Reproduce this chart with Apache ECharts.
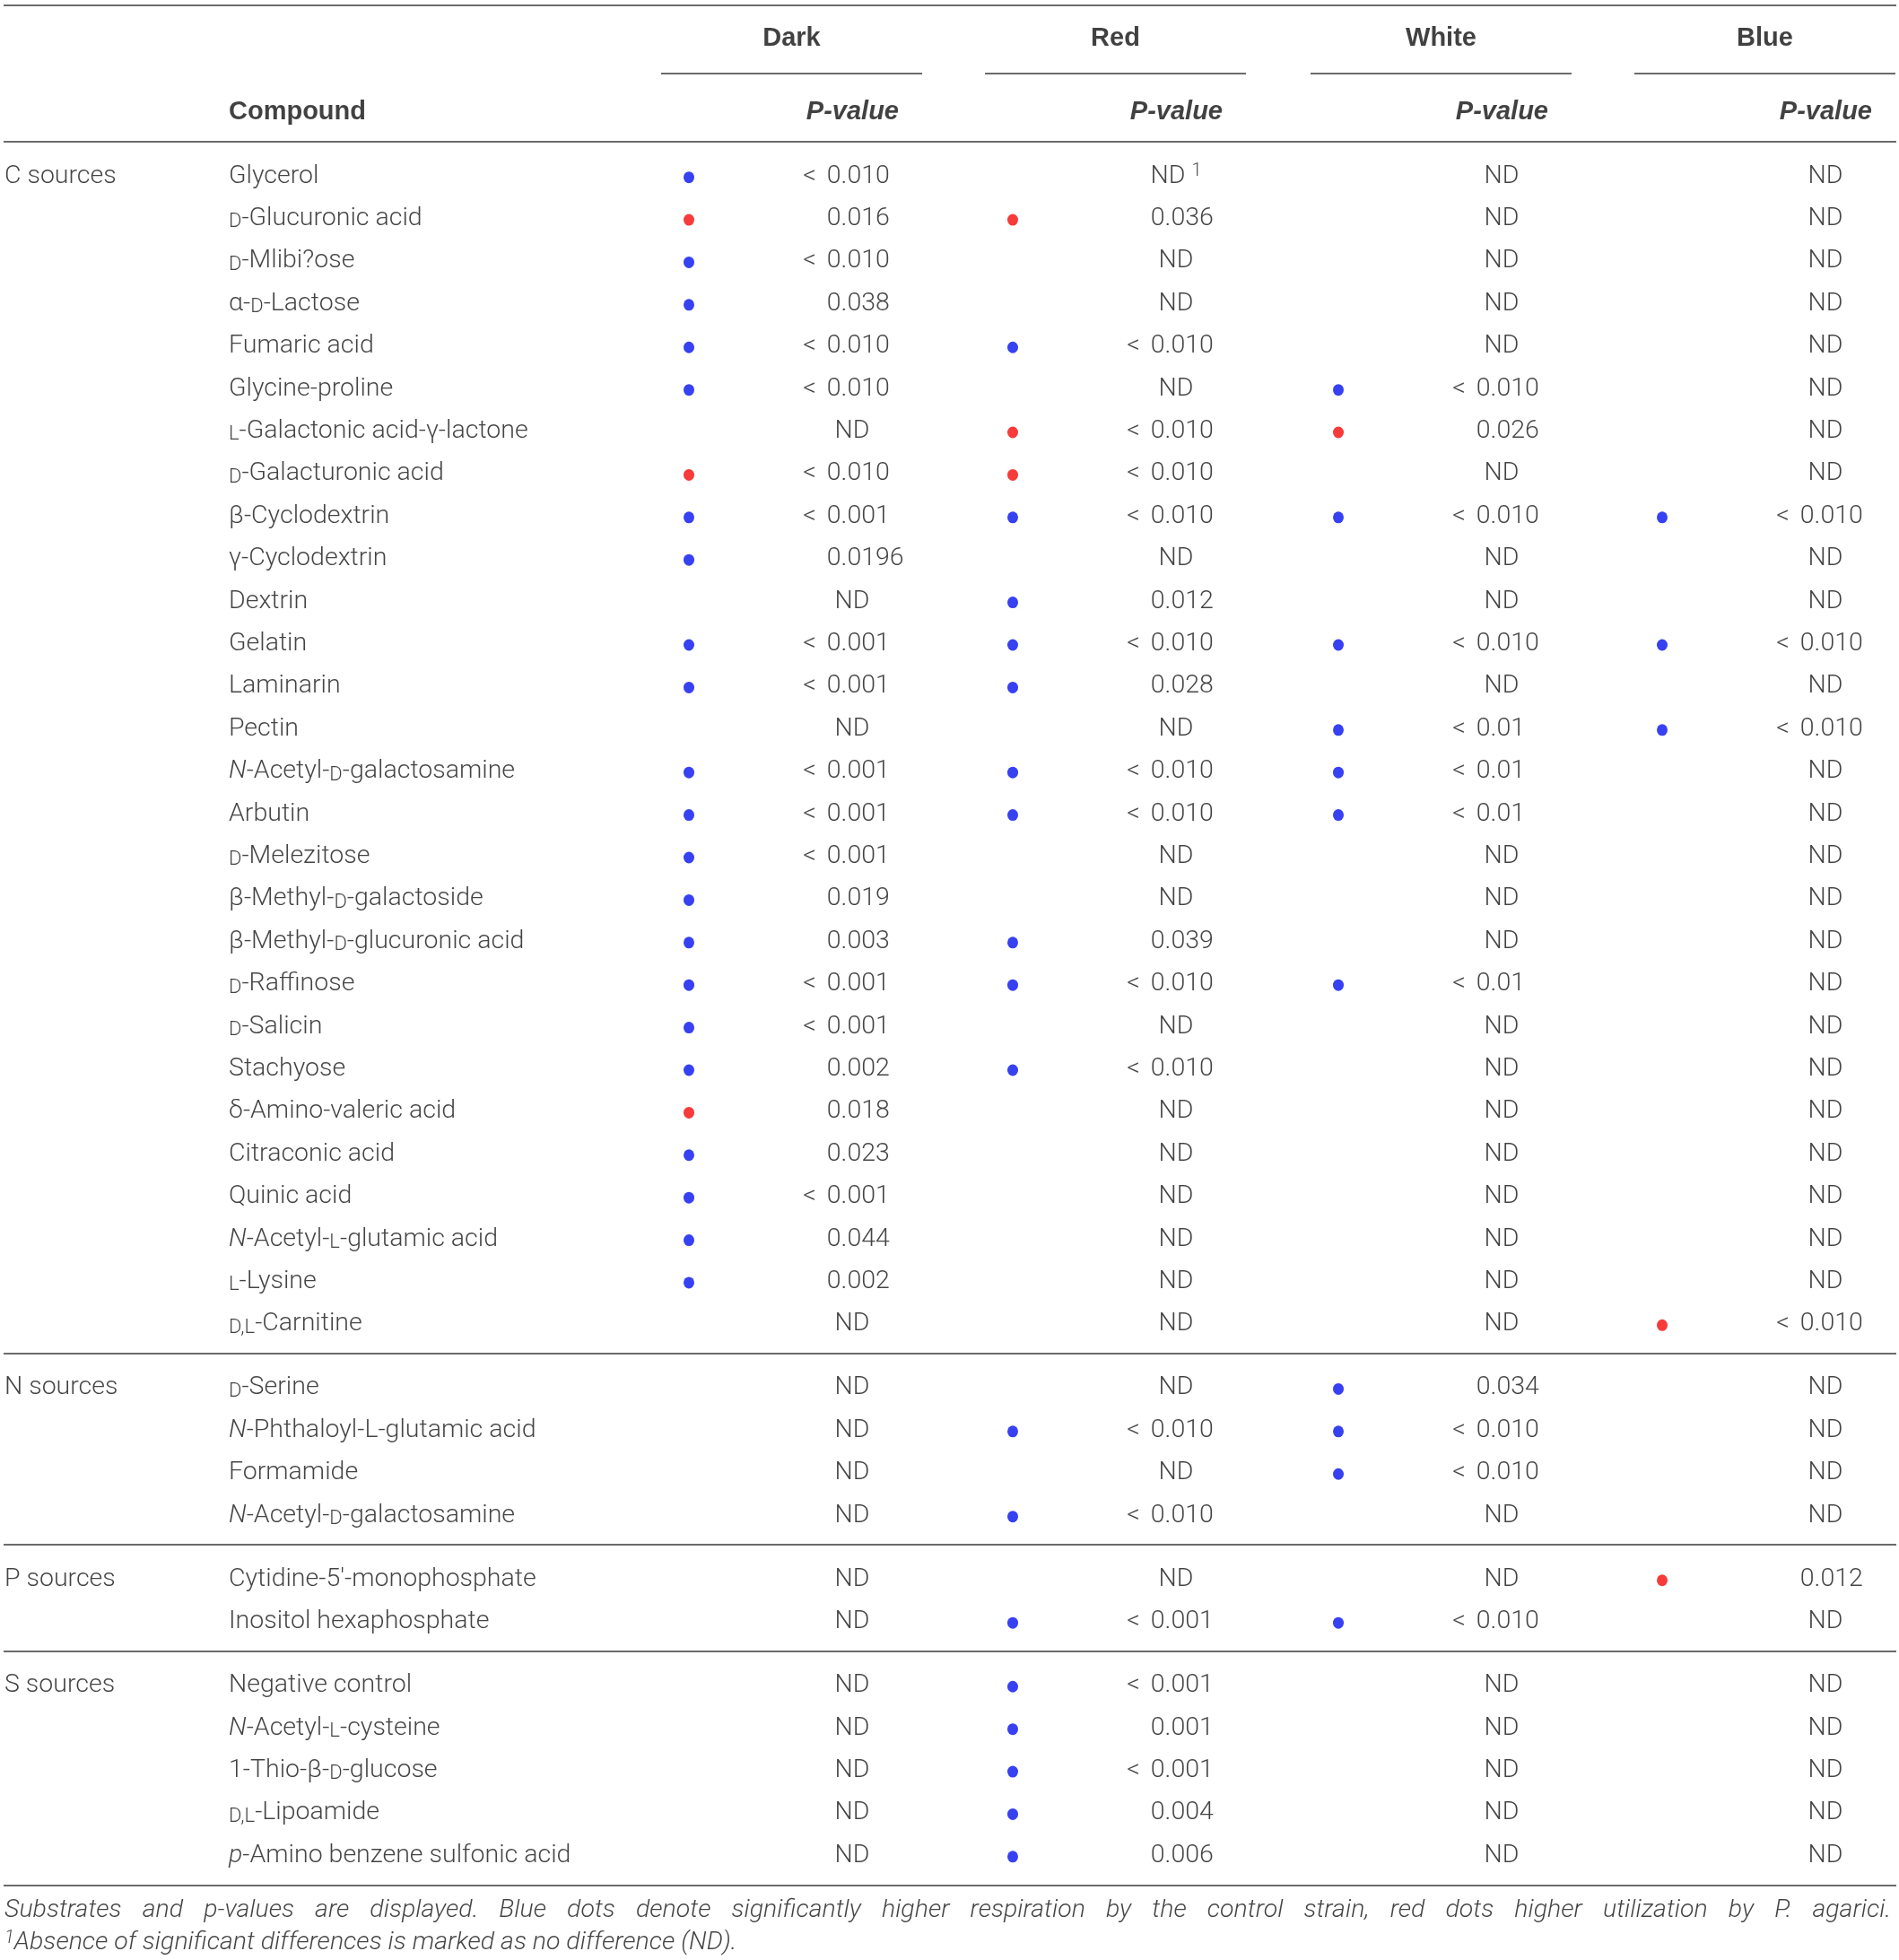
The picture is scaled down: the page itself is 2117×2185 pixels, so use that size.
<!DOCTYPE html>
<html lang="en">
<head>
<meta charset="UTF-8">
<title>Substrate utilization p-values</title>
<script src="https://cdn.jsdelivr.net/npm/echarts@6/dist/echarts.min.js"></script>
<style>
  html, body { margin: 0; padding: 0; background: #fff; }
  #table { width: 2117px; height: 2185px; }
</style>
</head>
<body>
<div id="table"></div>
<script>
// ---- data ----
var sourceNames = ['C sources', 'N sources', 'P sources', 'S sources'];
var sourceSizes = [28, 4, 2, 5];
var lightNames = ['Dark', 'Red', 'White', 'Blue'];

// {sc|..} small caps, {it|..} italic
var compounds = [
  'Glycerol', '{sc|D}-Glucuronic acid', '{sc|D}-Mlibi?ose', 'α-{sc|D}-Lactose', 'Fumaric acid',
  'Glycine-proline', '{sc|L}-Galactonic acid-γ-lactone', '{sc|D}-Galacturonic acid', 'β-Cyclodextrin',
  'γ-Cyclodextrin', 'Dextrin', 'Gelatin', 'Laminarin', 'Pectin', '{it|N}-Acetyl-{sc|D}-galactosamine',
  'Arbutin', '{sc|D}-Melezitose', 'β-Methyl-{sc|D}-galactoside', 'β-Methyl-{sc|D}-glucuronic acid',
  '{sc|D}-Raffinose', '{sc|D}-Salicin', 'Stachyose', 'δ-Amino-valeric acid', 'Citraconic acid',
  'Quinic acid', '{it|N}-Acetyl-{sc|L}-glutamic acid', '{sc|L}-Lysine', '{sc|D,L}-Carnitine',
  '{sc|D}-Serine', '{it|N}-Phthaloyl-L-glutamic acid', 'Formamide', '{it|N}-Acetyl-{sc|D}-galactosamine',
  'Cytidine-5′-monophosphate', 'Inositol hexaphosphate',
  'Negative control', '{it|N}-Acetyl-{sc|L}-cysteine', '1-Thio-β-{sc|D}-glucose', '{sc|D,L}-Lipoamide',
  '{it|p}-Amino benzene sulfonic acid'
];

var pDark = [
  '< 0.010', '0.016', '< 0.010', '0.038', '< 0.010', '< 0.010', 'ND', '< 0.010', '< 0.001', '0.0196',
  'ND', '< 0.001', '< 0.001', 'ND', '< 0.001', '< 0.001', '< 0.001', '0.019', '0.003', '< 0.001',
  '< 0.001', '0.002', '0.018', '0.023', '< 0.001', '0.044', '0.002', 'ND',
  'ND', 'ND', 'ND', 'ND',
  'ND', 'ND',
  'ND', 'ND', 'ND', 'ND', 'ND'
];
var dotDark = [
  'b', 'r', 'b', 'b', 'b', 'b', '', 'r', 'b', 'b',
  '', 'b', 'b', '', 'b', 'b', 'b', 'b', 'b', 'b',
  'b', 'b', 'r', 'b', 'b', 'b', 'b', '',
  '', '', '', '',
  '', '',
  '', '', '', '', ''
];
var pRed = [
  'ND {sup|1}', '0.036', 'ND', 'ND', '< 0.010', 'ND', '< 0.010', '< 0.010', '< 0.010', 'ND',
  '0.012', '< 0.010', '0.028', 'ND', '< 0.010', '< 0.010', 'ND', 'ND', '0.039', '< 0.010',
  'ND', '< 0.010', 'ND', 'ND', 'ND', 'ND', 'ND', 'ND',
  'ND', '< 0.010', 'ND', '< 0.010',
  'ND', '< 0.001',
  '< 0.001', '0.001', '< 0.001', '0.004', '0.006'
];
var dotRed = [
  '', 'r', '', '', 'b', '', 'r', 'r', 'b', '',
  'b', 'b', 'b', '', 'b', 'b', '', '', 'b', 'b',
  '', 'b', '', '', '', '', '', '',
  '', 'b', '', 'b',
  '', 'b',
  'b', 'b', 'b', 'b', 'b'
];
var pWhite = [
  'ND', 'ND', 'ND', 'ND', 'ND', '< 0.010', '0.026', 'ND', '< 0.010', 'ND',
  'ND', '< 0.010', 'ND', '< 0.01', '< 0.01', '< 0.01', 'ND', 'ND', 'ND', '< 0.01',
  'ND', 'ND', 'ND', 'ND', 'ND', 'ND', 'ND', 'ND',
  '0.034', '< 0.010', '< 0.010', 'ND',
  'ND', '< 0.010',
  'ND', 'ND', 'ND', 'ND', 'ND'
];
var dotWhite = [
  '', '', '', '', '', 'b', 'r', '', 'b', '',
  '', 'b', '', 'b', 'b', 'b', '', '', '', 'b',
  '', '', '', '', '', '', '', '',
  'b', 'b', 'b', '',
  '', 'b',
  '', '', '', '', ''
];
var pBlue = [
  'ND', 'ND', 'ND', 'ND', 'ND', 'ND', 'ND', 'ND', '< 0.010', 'ND',
  'ND', '< 0.010', 'ND', '< 0.010', 'ND', 'ND', 'ND', 'ND', 'ND', 'ND',
  'ND', 'ND', 'ND', 'ND', 'ND', 'ND', 'ND', '< 0.010',
  'ND', 'ND', 'ND', 'ND',
  '0.012', 'ND',
  'ND', 'ND', 'ND', 'ND', 'ND'
];
var dotBlue = [
  '', '', '', '', '', '', '', '', 'b', '',
  '', 'b', '', 'b', '', '', '', '', '', '',
  '', '', '', '', '', '', '', 'r',
  '', '', '', '',
  'r', '',
  '', '', '', '', ''
];

var footLine1 = 'Substrates and p-values are displayed. Blue dots denote significantly higher respiration by the control strain, red dots higher utilization by P. agarici.';
var footLine2 = '{sup|1}Absence of significant differences is marked as no difference (ND).';

// ---- layout (pixels on x, row units on y) ----
var W = 2117;
var layout = {
  srcX: 5, cmpX: 255,
  colStart: [737, 1098, 1461, 1822], colW: 291,
  dotDx: 31, decDx: 200.6, ndDx: 213, pvDx: 265,
  ruleL: 4, ruleR: 2114,
  yTop: -3.97, yGroup: -3.2, yUnder: -2.37, ySub: -1.46, yHeadRule: -0.766,
  divGap: 0.73, yBottom: 40.24, yFoot1: 40.83, yFoot2: 41.6,
  textDy: 0.045, dotDy: 0.07
};

var FONT = 'Roboto, "Liberation Sans", sans-serif';
var HFONT = '"Liberation Sans", Arial, sans-serif';
var INK = '#151515';
var BLUE = '#0512ee';
var RED = '#f50a0a';
var FS = 28.5;

// row positions: half-row gap between source groups
var rowY = [];
var groupFirst = [], groupLast = [];
(function () {
  var i = 0;
  sourceSizes.forEach(function (n, g) {
    groupFirst.push(i + 0.5 * g);
    for (var k = 0; k < n; k++) { rowY.push(i + 0.5 * g); i++; }
    groupLast.push(i - 1 + 0.5 * g);
  });
})();

var rich = {
  sc: { fontFamily: FONT, fontWeight: 300, fontSize: 22, color: INK, verticalAlign: 'bottom', lineHeight: 29 },
  it: { fontFamily: FONT, fontWeight: 300, fontStyle: 'italic', fontSize: FS, color: INK, lineHeight: 30 },
  sup: { fontFamily: FONT, fontWeight: 300, fontSize: 20, color: INK, verticalAlign: 'top', lineHeight: 20 },
  lt: { fontFamily: FONT, fontWeight: 300, fontSize: FS, color: INK, lineHeight: 30, padding: [0, 5, 0, 0] }
};

function textSeries(name, data, position, extra) {
  var label = Object.assign({
    show: true, position: position, distance: 0, padding: 0,
    formatter: function (p) { return p.value[2]; },
    fontFamily: FONT, fontWeight: 300, fontSize: FS, lineHeight: 30, color: INK, rich: rich
  }, extra || {});
  return {
    name: name, type: 'scatter', symbolSize: 0, silent: true,
    data: data, label: label, z: 5
  };
}

// ---- build table ----
var pCols = [pDark, pRed, pWhite, pBlue];
var dotCols = [dotDark, dotRed, dotWhite, dotBlue];
var tY = function (i) { return rowY[i] + layout.textDy; };

var srcData = sourceNames.map(function (s, g) { return [layout.srcX, groupFirst[g] + layout.textDy, s]; });
var cmpData = compounds.map(function (c, i) { return [layout.cmpX, tY(i), c]; });

var groupHead = [], subHead = [], pvHead = [];
lightNames.forEach(function (n, c) {
  groupHead.push([layout.colStart[c] + layout.colW / 2, layout.yGroup, n]);
  pvHead.push([layout.colStart[c] + layout.pvDx, layout.ySub, 'P-value']);
});
subHead.push([layout.cmpX, layout.ySub, 'Compound']);

// p-values are aligned on the decimal point
var intData = [], fracData = [], ndData = [], blueDots = [], redDots = [];
pCols.forEach(function (col, c) {
  var x0 = layout.colStart[c];
  col.forEach(function (v, i) {
    if (v.indexOf('ND') === 0) {
      ndData.push([x0 + layout.ndDx, tY(i), v]);
    } else {
      var k = v.indexOf('.');
      var head = v.slice(0, k).replace('< ', '{lt|<} ');
      intData.push([x0 + layout.decDx, tY(i), head]);
      fracData.push([x0 + layout.decDx, tY(i), v.slice(k)]);
    }
    var d = dotCols[c][i];
    if (d === 'b') blueDots.push([x0 + layout.dotDx, rowY[i] + layout.dotDy]);
    if (d === 'r') redDots.push([x0 + layout.dotDx, rowY[i] + layout.dotDy]);
  });
});

// horizontal rules
var rules = [];
function rule(x1, x2, y) { rules.push({ coords: [[x1, y], [x2, y]] }); }
rule(layout.ruleL, layout.ruleR, layout.yTop);
layout.colStart.forEach(function (x) { rule(x, x + layout.colW, layout.yUnder); });
rule(layout.ruleL, layout.ruleR, layout.yHeadRule);
for (var g = 0; g < sourceNames.length - 1; g++) {
  rule(layout.ruleL, layout.ruleR, groupLast[g] + layout.divGap);
}
rule(layout.ruleL, layout.ruleR, layout.yBottom);

// footnote, first line justified across the table width
var footFont = 'italic 300 ' + FS + 'px Roboto, "Liberation Sans", sans-serif';
var ctx = document.createElement('canvas').getContext('2d');
ctx.font = footFont;
var words = footLine1.split(' ');
var widths = words.map(function (w) { return ctx.measureText(w).width; });
var used = widths.reduce(function (a, b) { return a + b; }, 0);
var gap = (layout.ruleR - 6 - layout.srcX - used) / (words.length - 1);
var footData = [];
var cx = layout.srcX;
words.forEach(function (w, i) {
  footData.push([cx, layout.yFoot1, w]);
  cx += widths[i] + gap;
});
footData.push([layout.srcX, layout.yFoot2, footLine2]);

var headStyle = { fontFamily: HFONT, fontWeight: 'bold', fontSize: 29, color: '#111' };

var chart = echarts.init(document.getElementById('table'), null, { renderer: 'canvas' });
chart.setOption({
  animation: false,
  backgroundColor: '#ffffff',
  grid: { left: 0, right: 0, top: 0, bottom: 0 },
  xAxis: { type: 'value', min: 0, max: W, show: false },
  yAxis: { type: 'value', min: -4.1, max: 42.0, inverse: true, show: false },
  series: [
    {
      name: 'rules', type: 'lines', coordinateSystem: 'cartesian2d', silent: true,
      data: rules, lineStyle: { color: '#6b6b6b', width: 2, opacity: 1 }, z: 1
    },
    textSeries('sources', srcData, 'right'),
    textSeries('compounds', cmpData, 'right'),
    textSeries('lights', groupHead, 'inside', headStyle),
    textSeries('compoundHead', subHead, 'right', headStyle),
    textSeries('pvalueHead', pvHead, 'left', Object.assign({ fontStyle: 'italic' }, headStyle)),
    textSeries('pInt', intData, 'left'),
    textSeries('pFrac', fracData, 'right'),
    textSeries('pND', ndData, 'inside'),
    textSeries('footnote', footData, 'right', { fontStyle: 'italic' }),
    {
      name: 'control higher', type: 'scatter', symbol: 'circle', symbolSize: [12, 13],
      data: blueDots, itemStyle: { color: BLUE }, silent: true, z: 6
    },
    {
      name: 'P. agarici higher', type: 'scatter', symbol: 'circle', symbolSize: [12, 13],
      data: redDots, itemStyle: { color: RED }, silent: true, z: 6
    }
  ]
});
</script>
</body>
</html>
